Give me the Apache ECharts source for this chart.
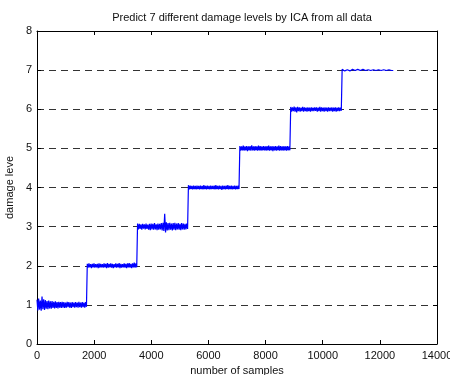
<!DOCTYPE html>
<html>
<head>
<meta charset="utf-8">
<script src="https://cdn.jsdelivr.net/npm/echarts@6/dist/echarts.min.js"></script>
<style>
  html, body { margin: 0; padding: 0; background: #fff; }
  #chart { width: 450px; height: 375px; }
</style>
</head>
<body>
<div id="chart"></div>
<script>
// first sample of each damage level, and the last sample
const segStarts = [0, 1760, 3520, 5300, 7100, 8880, 10680];
const lastSample = 12500;
// predicted level
const lvl1 = [1.13,0.86,1.16,0.88,1.11,0.85,1.21,0.89,1.14,0.87,
              1.12,0.90,1.10,0.89,1.11,0.91,1.09,0.90,1.10,0.92,
              1.08,0.91,1.09,0.92,1.07,0.91,1.08,0.93,1.07,0.92,
              1.08,0.93,1.07,0.92,1.06,0.93,1.08,0.94,1.07,0.93,
              1.06,0.92,1.07,0.94,1.06,0.93,1.07,0.94,1.06,0.93,
              1.08,0.94,1.06,0.93,1.07,0.94,1.06,0.93,1.07,0.95];
const lvl2 = [2.05,1.95,2.06,1.96,2.04,1.94,2.05,1.96,2.06,1.95,
              2.04,1.96,2.05,1.94,2.06,1.95,2.05,1.96,2.04,1.95,
              2.06,1.96,2.05,1.94,2.07,1.95,2.05,1.96,2.06,1.95,
              2.05,1.94,2.04,1.96,2.06,1.95,2.05,1.96,2.07,1.94,
              2.05,1.95,2.04,1.96,2.06,1.95,2.05,1.94,2.06,1.96,
              2.07,1.95,2.05,1.94,2.06,1.96,2.08,1.95,2.06,1.96];
const lvl3 = [3.08,2.93,3.07,2.94,3.06,2.92,3.07,2.95,3.06,2.93,
              3.08,2.94,3.05,2.92,3.07,2.91,3.08,2.93,3.07,2.92,
              3.09,2.93,3.06,2.91,3.08,2.92,3.07,2.93,3.09,2.90,
              3.10,2.89,3.33,2.85,3.11,2.90,3.09,2.91,3.10,2.92,
              3.08,2.90,3.09,2.92,3.10,2.91,3.08,2.93,3.09,2.92,
              3.07,2.91,3.09,2.93,3.08,2.92,3.07,2.93,3.08,2.94];
const lvl4 = [4.06,3.95,4.05,3.96,4.04,3.95,4.05,3.96,4.04,3.95,
              4.05,3.96,4.04,3.95,4.05,3.96,4.04,3.95,4.06,3.96,
              4.04,3.95,4.05,3.96,4.04,3.95,4.05,3.96,4.04,3.96,
              4.05,3.95,4.06,3.96,4.04,3.95,4.05,3.96,4.04,3.94,
              4.05,3.96,4.04,3.95,4.05,3.96,4.06,3.95,4.04,3.96,
              4.05,3.95,4.04,3.96,4.05,3.95,4.04,3.96,4.05,3.96];
const lvl5 = [5.06,4.94,5.05,4.95,5.07,4.94,5.05,4.95,5.06,4.93,
              5.05,4.95,5.06,4.94,5.08,4.95,5.05,4.94,5.06,4.95,
              5.05,4.94,5.07,4.95,5.06,4.94,5.05,4.95,5.06,4.95,
              5.05,4.94,5.06,4.95,5.07,4.94,5.05,4.95,5.06,4.93,
              5.05,4.95,5.06,4.94,5.05,4.95,5.07,4.94,5.06,4.95,
              5.05,4.94,5.06,4.95,5.05,4.94,5.06,4.95,5.05,4.95];
const lvl6 = [6.06,5.94,6.05,5.95,6.07,5.94,6.05,5.92,6.06,5.95,
              6.05,5.94,6.04,5.95,6.06,5.94,6.05,5.95,6.04,5.94,
              6.05,5.95,6.04,5.94,6.05,5.95,6.04,5.95,6.05,5.96,
              6.05,5.94,6.04,5.95,6.06,5.94,6.05,5.95,6.04,5.94,
              6.05,5.95,6.04,5.94,6.05,5.95,6.04,5.95,6.05,5.94,
              6.04,5.95,6.05,5.94,6.04,5.95,6.05,5.95,6.04,5.96];
const lvl7 = [7.02,6.99,7.01,6.98,7.02,6.99,7.01,6.99,7.02,6.98,
              7.01,6.99,7.02,6.99,7.01,6.99,7.01,6.98,7.02,6.99,
              7.01,6.99,7.01,6.99,7.02,6.99,7.01,6.99,7.01,6.99,
              7.01,6.99,7.02,6.99,7.01,6.98,7.01,6.99,7.02,6.99,
              7.01,6.99,7.01,6.98,7.02,6.99,7.01,6.99,7.01,6.99,
              7.02,6.99,7.01,6.99,7.01,6.98,7.01,6.99,7.02,6.99];
const xTicks = [0, 2000, 4000, 6000, 8000, 10000, 12000, 14000];
const yTicks = [0, 1, 2, 3, 4, 5, 6, 7, 8];

// spread each segment's samples over its sample range
const segments = [lvl1, lvl2, lvl3, lvl4, lvl5, lvl6, lvl7];
const points = [];
segments.forEach((seg, k) => {
    const start = segStarts[k];
    const end = k + 1 < segStarts.length ? segStarts[k + 1] : lastSample;
    const step = (end - start) / seg.length;
    seg.forEach((v, j) => points.push([start + j * step, v]));
});

const font = 'Liberation Sans, Arial, Helvetica, sans-serif';
const myChart = echarts.init(document.getElementById('chart'));
const xBase = {
    type: 'value',
    min: xTicks[0],
    max: xTicks[xTicks.length - 1],
    interval: 2000,
    axisLine: { show: true, onZero: false, lineStyle: { color: '#000', width: 1 } },
    axisTick: { show: true, inside: true, length: 4, lineStyle: { color: '#000' } },
    splitLine: { show: false }
};
const yBase = {
    type: 'value',
    min: yTicks[0],
    max: yTicks[yTicks.length - 1],
    interval: 1,
    axisLine: { show: true, onZero: false, lineStyle: { color: '#000', width: 1 } },
    axisTick: { show: true, inside: true, length: 4, lineStyle: { color: '#000' } }
};
myChart.setOption({
    animation: false,
    backgroundColor: '#fff',
    title: {
        text: 'Predict 7 different damage levels by ICA from all data',
        left: 237,
        top: 7,
        textAlign: 'center',
        textStyle: { fontFamily: font, fontSize: 11, fontWeight: 'normal', color: '#111' }
    },
    grid: { left: 37, right: 13, top: 31, bottom: 31, containLabel: false, outerBoundsMode: 'none' },
    xAxis: [
        Object.assign({}, xBase, {
            position: 'bottom',
            name: 'number of samples',
            nameLocation: 'middle',
            nameGap: 19,
            nameTextStyle: { fontFamily: font, fontSize: 11, color: '#111' },
            axisLabel: { fontFamily: font, fontSize: 11, color: '#111', margin: 6, formatter: v => String(v) }
        }),
        Object.assign({}, xBase, { position: 'top', axisLabel: { show: false } })
    ],
    yAxis: [
        Object.assign({}, yBase, {
            position: 'left',
            name: 'damage leve',
            nameLocation: 'middle',
            nameGap: 19,
            nameRotate: 90,
            nameTextStyle: { fontFamily: font, fontSize: 11, color: '#111' },
            axisLabel: { fontFamily: font, fontSize: 11, color: '#111', margin: 5 },
            splitLine: { show: true, lineStyle: { color: '#333', width: 1, type: [7, 5] } }
        }),
        Object.assign({}, yBase, { position: 'right', axisLabel: { show: false }, splitLine: { show: false } })
    ],
    series: [{
        type: 'line',
        data: points,
        showSymbol: false,
        symbol: 'none',
        lineStyle: { color: '#0000ff', width: 1.2 },
        itemStyle: { color: '#0000ff' }
    }]
});
</script>
</body>
</html>
